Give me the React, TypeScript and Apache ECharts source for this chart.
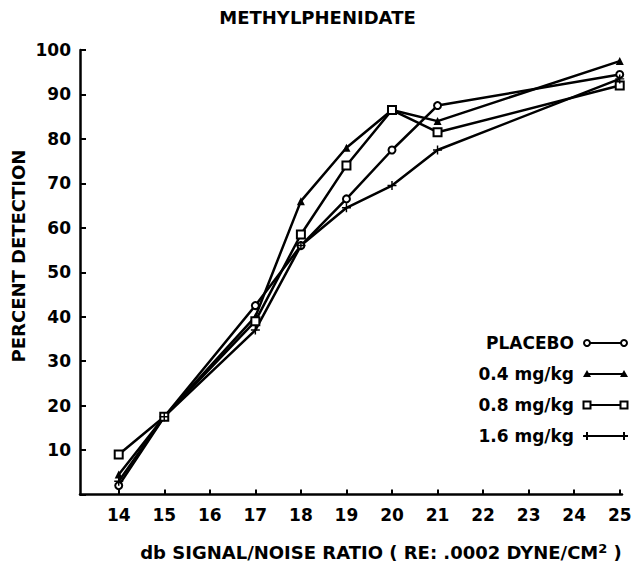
import React, { useEffect, useRef } from "react";
import * as echarts from "echarts";

const xValues = [14, 15, 17, 18, 19, 20, 21, 25];
const placebo = [2, 17.5, 42.5, 56, 66.5, 77.5, 87.5, 94.5];
const mg04 = [4.5, 17.5, 40, 66, 78, 86.5, 84, 97.5];
const mg08 = [9, 17.5, 39, 58.5, 74, 86.5, 81.5, 92];
const mg16 = [3, 17.5, 37, 56, 64.5, 69.5, 77.5, 93.5];
const xTicks = [14, 15, 16, 17, 18, 19, 20, 21, 22, 23, 24, 25];
const seriesNames = ["PLACEBO", "0.4 mg/kg", "0.8 mg/kg", "1.6 mg/kg"];

const FONT = "DejaVu Sans";
const plusPath = "path://M0,4.2 H10 V5.8 H0 Z M4.2,0 H5.8 V10 H4.2 Z";

export default function App() {
  const ref = useRef<HTMLDivElement>(null);
  useEffect(() => {
    if (!ref.current) return;
    const chart = echarts.init(ref.current, undefined, { renderer: "svg" });
    const pairs = (ys: number[]) => xValues.map((x, i) => [x, ys[i]]);
    const lineStyle = { color: "#000", width: 2.5 };
    const mk = (name: string, ys: number[], symbol: string, size: number, filled: boolean) => ({
      name,
      type: "line",
      data: pairs(ys),
      symbol,
      symbolSize: size,
      showSymbol: true,
      lineStyle,
      itemStyle: filled
        ? { color: "#000", borderWidth: 0 }
        : { color: "#fff", borderColor: "#000", borderWidth: 2 },
      z: 3,
    });

    const rowsY = [343, 374, 405, 436];
    const lx0 = 587;
    const lx1 = 624;
    const legend: any[] = [];
    rowsY.forEach((y, i) => {
      legend.push({
        type: "text",
        x: 574,
        y,
        style: {
          text: seriesNames[i],
          font: `bold 17px "${FONT}"`,
          fill: "#000",
          textAlign: "right",
          textVerticalAlign: "middle",
        },
      });
      legend.push({
        type: "line",
        shape: { x1: lx0, y1: y, x2: lx1, y2: y },
        style: { stroke: "#000", lineWidth: 2 },
      });
      [lx0, lx1].forEach((cx) => {
        if (i === 0) {
          legend.push({ type: "circle", shape: { cx, cy: y, r: 3 }, style: { fill: "#fff", stroke: "#000", lineWidth: 2 } });
        } else if (i === 1) {
          legend.push({ type: "polygon", shape: { points: [[cx, y - 4], [cx - 4, y + 3], [cx + 4, y + 3]] }, style: { fill: "#000" } });
        } else if (i === 2) {
          legend.push({ type: "rect", shape: { x: cx - 3.5, y: y - 3.5, width: 7, height: 7 }, style: { fill: "#fff", stroke: "#000", lineWidth: 2 } });
        } else {
          legend.push({ type: "line", shape: { x1: cx - 4, y1: y, x2: cx + 4, y2: y }, style: { stroke: "#000", lineWidth: 2 } });
          legend.push({ type: "line", shape: { x1: cx, y1: y - 4, x2: cx, y2: y + 4 }, style: { stroke: "#000", lineWidth: 2 } });
        }
      });
    });

    legend.push({
      type: "text",
      x: 18,
      y: 256,
      rotation: Math.PI / 2,
      style: {
        text: "PERCENT DETECTION",
        font: `bold 18px "${FONT}"`,
        fill: "#000",
        textAlign: "center",
        textVerticalAlign: "middle",
      },
    });

    chart.setOption({
      animation: false,
      backgroundColor: "#fff",
      title: {
        text: "METHYLPHENIDATE",
        left: "center",
        top: 3,
        textStyle: { fontFamily: FONT, fontWeight: "bold", fontSize: 18, color: "#000" },
      },
      grid: { left: 80, right: 13, top: 50, bottom: 65 },
      xAxis: {
        type: "value",
        min: 13.15,
        max: 25.05,
        name: "db SIGNAL/NOISE RATIO ( RE: .0002 DYNE/CM{sup|2} )",
        nameLocation: "middle",
        nameGap: 47,
        nameTextStyle: {
          fontFamily: FONT,
          fontWeight: "bold",
          fontSize: 18,
          color: "#000",
          padding: [0, 0, 0, 60],
          rich: {
            sup: { fontFamily: FONT, fontWeight: "bold", fontSize: 13, color: "#000", verticalAlign: "top", padding: [0, 0, 8, 0] },
          },
        },
        splitLine: { show: false },
        axisLine: { show: true, lineStyle: { color: "#000", width: 2.5 } },
        axisTick: { show: true, inside: true, length: 5, lineStyle: { color: "#000", width: 2 }, customValues: xTicks },
        axisLabel: {
          customValues: xTicks,
          margin: 12,
          fontFamily: FONT,
          fontWeight: "bold",
          fontSize: 17,
          color: "#000",
        },
      },
      yAxis: {
        type: "value",
        min: 0,
        max: 100,
        interval: 10,
        splitLine: { show: false },
        axisLine: { show: true, lineStyle: { color: "#000", width: 2.5 } },
        axisTick: { show: true, inside: true, length: 6, lineStyle: { color: "#000", width: 2 } },
        axisLabel: {
          margin: 9,
          fontFamily: FONT,
          fontWeight: "bold",
          fontSize: 17,
          color: "#000",
          formatter: (v: number) => (v === 0 ? "" : String(v)),
        },
      },
      series: [
        mk(seriesNames[0], placebo, "circle", 7, false),
        mk(seriesNames[1], mg04, "triangle", 8, true),
        mk(seriesNames[2], mg08, "rect", 8, false),
        mk(seriesNames[3], mg16, plusPath, 9, true),
      ],
      graphic: legend,
    });
    return () => chart.dispose();
  }, []);
  return <div ref={ref} style={{ position: "absolute", left: 0, top: 0, width: 635, height: 566 }} />;
}
